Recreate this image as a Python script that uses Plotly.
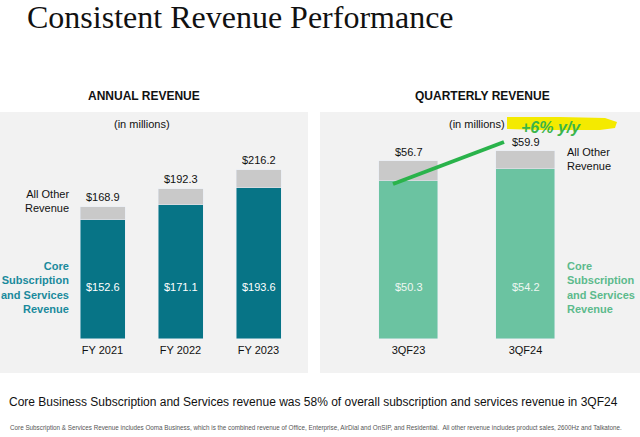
import plotly.graph_objects as go

# ---- data ----
annual_cats = ["FY 2021", "FY 2022", "FY 2023"]
annual_core = [152.6, 171.1, 193.6]
annual_total = [168.9, 192.3, 216.2]

quarter_cats = ["3QF23", "3QF24"]
quarter_core = [50.3, 54.2]
quarter_total = [56.7, 59.9]

annual_other = [round(t - c, 1) for t, c in zip(annual_total, annual_core)]
quarter_other = [round(t - c, 1) for t, c in zip(quarter_total, quarter_core)]

W, H = 640, 437
TEAL = "#077486"
TEAL_TXT = "#1a8a9c"
GREEN = "#6bc3a1"
GREEN_TXT = "#5cba8c"
GREY = "#c9c9c9"
PANEL = "#f2f2f2"
FONT = "Arial, Liberation Sans, sans-serif"


def px(x):
    return x / W


def py(y):
    return 1 - y / H


fig = go.Figure()
fig.add_bar(x=annual_cats, y=annual_core, marker_color=TEAL, width=0.577,
            xaxis="x", yaxis="y", hoverinfo="skip")
fig.add_bar(x=annual_cats, y=annual_other, marker_color=GREY, width=0.577,
            xaxis="x", yaxis="y", hoverinfo="skip")
fig.add_bar(x=quarter_cats, y=quarter_core, marker_color=GREEN, width=0.504,
            xaxis="x2", yaxis="y2", hoverinfo="skip")
fig.add_bar(x=quarter_cats, y=quarter_other, marker_color=GREY, width=0.504,
            xaxis="x2", yaxis="y2", hoverinfo="skip")

ann = []
# totals above bars
for c, t in zip(annual_cats, annual_total):
    ann.append(dict(x=c, y=t, xref="x", yref="y", text=f"${t:.1f}", showarrow=False,
                    yshift=10, font=dict(size=11, color="#111", family=FONT)))
for c, t in zip(quarter_cats, quarter_total):
    ann.append(dict(x=c, y=t, xref="x2", yref="y2", text=f"${t:.1f}", showarrow=False,
                    yshift=9, font=dict(size=11, color="#111", family=FONT)))
# values inside bars
for c, v in zip(annual_cats, annual_core):
    ann.append(dict(x=c, y=py(287), xref="x", yref="paper", text=f"${v:.1f}", showarrow=False,
                    font=dict(size=11, color="#ffffff", family=FONT)))
for c, v in zip(quarter_cats, quarter_core):
    ann.append(dict(x=c, y=py(287), xref="x2", yref="paper", text=f"${v:.1f}", showarrow=False,
                    font=dict(size=11, color="#eef7f2", family=FONT)))

def txt(x, y, text, size=11, color="#111", xanchor="center", align="center", bold=False, family=FONT, italic=False):
    if bold:
        text = f"<b>{text}</b>"
    if italic:
        text = f"<i>{text}</i>"
    ann.append(dict(x=px(x), y=py(y), xref="paper", yref="paper", text=text, showarrow=False,
                    xanchor=xanchor, yanchor="middle", align=align,
                    font=dict(size=size, color=color, family=family)))

txt(25, 17, "Consistent Revenue Performance", size=32, color="#111",
    xanchor="left", family="Liberation Serif, Times New Roman, serif")
txt(144, 96, "ANNUAL REVENUE", size=12, bold=True)
txt(482, 96, "QUARTERLY REVENUE", size=12, bold=True)
txt(142, 124, "(in millions)", size=11)
txt(477, 124, "(in millions)", size=11)
txt(71, 201, "All Other<br>Revenue", xanchor="right", align="right")
txt(71, 287.5, "Core<br>Subscription<br>and Services<br>Revenue", color=TEAL_TXT,
    xanchor="right", align="right", bold=True)
txt(565, 159, "All Other<br>Revenue", xanchor="left", align="left")
txt(565, 287.5, "Core<br>Subscription<br>and Services<br>Revenue", color=GREEN_TXT,
    xanchor="left", align="left", bold=True)
txt(313, 402, "Core Business Subscription and Services revenue was 58% of overall subscription and services revenue in 3QF24",
    size=12, color="#111")
txt(316, 428, "Core Subscription &amp; Services Revenue includes Ooma Business, which is the combined revenue of Office, Enterprise, AirDial and OnSIP, and Residential.  All other revenue includes product sales, 2600Hz and Talkatone.",
    size=6.3, color="#555")

shapes = [
    dict(type="rect", xref="paper", yref="paper", x0=px(0), x1=px(308), y0=py(373), y1=py(112),
         fillcolor=PANEL, line=dict(width=0), layer="below"),
    dict(type="rect", xref="paper", yref="paper", x0=px(320), x1=px(640), y0=py(373), y1=py(112),
         fillcolor=PANEL, line=dict(width=0), layer="below"),
]
# yellow highlight stroke
hl = [(507, 117), (560, 117), (605, 118), (617, 122), (615, 128), (600, 130), (540, 130), (507, 129)]
path = "M " + " L ".join(f"{px(a):.4f},{py(b):.4f}" for a, b in hl) + " Z"
shapes.append(dict(type="path", xref="paper", yref="paper", path=path,
                   fillcolor="#f4ea00", line=dict(width=0), layer="above"))
# green growth stroke
shapes.append(dict(type="line", xref="paper", yref="paper", x0=px(393), y0=py(184), x1=px(504), y1=py(142),
                   line=dict(color="#2ab34b", width=4), layer="above"))
fig.layout.shapes = shapes

txt(551, 127, "+6% y/y", size=16, color="#3bb54a", bold=True, italic=True)

fig.update_layout(
    width=W, height=H, margin=dict(l=0, r=0, t=0, b=0),
    paper_bgcolor="white", plot_bgcolor="rgba(0,0,0,0)",
    barmode="stack", showlegend=False, bargap=0,
    annotations=ann,
    xaxis=dict(domain=[px(63.5), px(297.5)], range=[-0.5, 2.5], showgrid=False, zeroline=False,
               showline=False, ticks="", ticklabelstandoff=3,
               tickfont=dict(size=11, color="#111", family=FONT), fixedrange=True),
    yaxis=dict(domain=[py(339), py(112)], range=[0, 227 / 0.7815], visible=False, fixedrange=True),
    xaxis2=dict(domain=[px(350), px(584)], range=[-0.5, 1.5], showgrid=False, zeroline=False,
                showline=False, ticks="", ticklabelstandoff=3,
                tickfont=dict(size=11, color="#111", family=FONT),
                anchor="y2", fixedrange=True),
    yaxis2=dict(domain=[py(339), py(112)], range=[0, 227 / 3.14], visible=False, anchor="x2", fixedrange=True),
)

fig.write_html("out.html", config={"displayModeBar": False},
               post_script="document.body.style.margin='0';document.body.style.overflow='hidden';")
